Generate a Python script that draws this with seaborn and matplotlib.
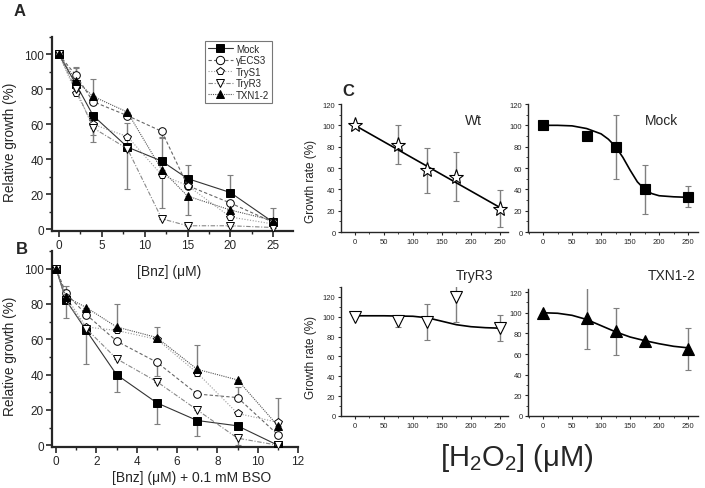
import numpy as np
import pandas as pd
import matplotlib
matplotlib.use("Agg")
import matplotlib.pyplot as plt
from matplotlib.ticker import MultipleLocator
from matplotlib.lines import Line2D
import seaborn as sns

sns.set_style("ticks")
plt.rcParams["font.family"] = ["Liberation Sans", "DejaVu Sans"]
plt.rcParams["mathtext.fontset"] = "custom"
plt.rcParams["mathtext.rm"] = "Liberation Sans"
plt.rcParams["mathtext.it"] = "Liberation Sans:italic"

# ---- panel A: Bnz alone ----
bnz_a = [0, 2, 4, 8, 12, 15, 20, 25]
a_mock = [100, 83, 65, 47, 39, 29, 21, 4]
a_gecs3 = [100, 88, 73, 65, 56, 25, 15, 4]
a_trys1 = [100, 78, 60, 53, 31, 25, 7, 3]
a_tryr3 = [100, 80, 58, 46, 6, 2, 2, 1]
a_txn = [100, 85, 76, 67, 34, 19, 11, 5]
# error bars (lower, upper)
a_mock_lo = [0, 3, 4, 0, 0, 0, 0, 0]
a_mock_up = [0, 10, 0, 14, 14, 8, 10, 0]
a_gecs3_lo = [0, 0, 0, 0, 4, 0, 0, 0]
a_gecs3_up = [0, 4, 0, 0, 0, 0, 0, 0]
a_trys1_lo = [0, 0, 6, 0, 0, 0, 0, 0]
a_trys1_up = [0, 0, 0, 0, 0, 0, 0, 0]
a_tryr3_lo = [0, 0, 8, 23, 0, 0, 0, 0]
a_tryr3_up = [0, 0, 0, 0, 0, 0, 0, 0]
a_txn_lo = [0, 4, 0, 0, 22, 11, 0, 0]
a_txn_up = [0, 0, 10, 0, 0, 0, 0, 7]

# ---- panel B: Bnz + BSO ----
bnz_b = [0, 0.5, 1.5, 3, 5, 7, 9, 11]
b_mock = [100, 82, 65, 40, 24, 14, 11, 0]
b_gecs3 = [100, 86, 74, 59, 47, 29, 27, 6]
b_trys1 = [100, 84, 67, 65, 60, 41, 18, 13]
b_tryr3 = [100, 82, 66, 49, 36, 20, 4, 0]
b_txn = [100, 84, 78, 67, 61, 43, 37, 11]
b_mock_lo = [0, 10, 19, 10, 12, 9, 0, 0]
b_mock_up = [0, 0, 0, 0, 0, 0, 0, 0]
b_gecs3_lo = [0, 0, 0, 0, 8, 0, 0, 0]
b_gecs3_up = [0, 0, 0, 0, 0, 0, 6, 0]
b_trys1_lo = [0, 0, 0, 0, 0, 2, 0, 0]
b_trys1_up = [0, 0, 0, 0, 0, 0, 0, 14]
b_tryr3_lo = [0, 0, 0, 0, 0, 0, 4, 0]
b_tryr3_up = [0, 0, 0, 0, 0, 0, 0, 0]
b_txn_lo = [0, 0, 0, 0, 0, 0, 0, 0]
b_txn_up = [0, 6, 0, 13, 6, 14, 0, 0]

# ---- panel C: H2O2 ----
h2o2 = [0, 75, 125, 175, 250]
c_wt = [100, 82, 58, 52, 22]
c_wt_err = [0, 18, 21, 23, 17]
c_mock = [100, 90, 80, 40, 33]
c_mock_err = [0, 0, 30, 23, 10]
c_tryr3 = [100, 96, 95, 120, 89]
c_tryr3_err = [0, 6, 18, 25, 13]
c_txn = [100, 95, 82, 73, 65]
c_txn_err = [0, 30, 23, 0, 20]
# fitted curves
fit_wt_x = [0, 250]
fit_wt_y = [100, 23]
fit_mock_x = [0, 25, 50, 75, 100, 112.5, 125, 137.5, 150, 162.5, 175, 187.5, 200, 225, 250]
fit_mock_y = [100, 100, 99.5, 97, 92, 87, 80, 70, 58, 47, 40, 36, 34, 33, 32.5]
fit_tryr3_x = [0, 50, 100, 125, 150, 175, 200, 225, 250]
fit_tryr3_y = [101, 101, 100.5, 99, 95.5, 92, 90, 89, 88.5]
fit_txn_x = [0, 25, 50, 75, 100, 125, 150, 175, 200, 225, 250]
fit_txn_y = [100, 99.5, 97.5, 93.5, 87.5, 81.5, 76.5, 73, 70, 67.5, 66]

W, H = 705, 489
fig = plt.figure(figsize=(W / 100, H / 100), dpi=100)


def box(l, t, r, b):
    return [l / W, 1 - b / H, (r - l) / W, (b - t) / H]


def ftext(x, y, s, **kw):
    fig.text(x / W, 1 - y / H, s, ha="center", va="center", **kw)


series_style = [
    ("Mock", "s", "black", "-", "#333333"),
    ("\u03b3ECS3", "o", "white", (0, (3, 2)), "#666666"),
    ("TryS1", "p", "white", (0, (1, 1.5)), "#9a9a9a"),
    ("TryR3", "v", "white", (0, (4, 1.5, 1, 1.5)), "#888888"),
    ("TXN1-2", "^", "black", (0, (1, 1)), "#555555"),
]


def style_main(ax):
    sns.despine(ax=ax)
    for sp in ax.spines.values():
        sp.set_linewidth(1.6)
    ax.tick_params(which="major", direction="out", length=4, width=1.2, labelsize=8.5, pad=2)
    ax.tick_params(which="minor", direction="out", length=2.5, width=1.0)
    ax.yaxis.set_major_locator(MultipleLocator(20))
    ax.yaxis.set_minor_locator(MultipleLocator(10))
    ax.set_xlabel("")
    ax.set_ylabel("")


def draw_panel(ax, x, ys, errs, ms):
    for (lab, mk, fc, ls, lc), y, (lo, up) in zip(series_style, ys, errs):
        ax.errorbar(x, y, yerr=[lo, up], fmt="none", ecolor="#7f7f7f",
                    elinewidth=1.0, capsize=2, capthick=0.8, zorder=1)
        sns.lineplot(x=x, y=y, ax=ax, color=lc, linestyle=ls, linewidth=0.8,
                     marker=mk, markersize=ms, markerfacecolor=fc,
                     markeredgecolor="black", markeredgewidth=0.7, zorder=3)


# panel A
axA = fig.add_axes(box(52, 38, 293, 232))
draw_panel(axA, bnz_a, [a_mock, a_gecs3, a_trys1, a_tryr3, a_txn],
           [(a_mock_lo, a_mock_up), (a_gecs3_lo, a_gecs3_up), (a_trys1_lo, a_trys1_up),
            (a_tryr3_lo, a_tryr3_up), (a_txn_lo, a_txn_up)], 5.5)
axA.set_xlim(-0.8, 27.3)
axA.set_ylim(-1, 110)
axA.xaxis.set_major_locator(MultipleLocator(5))
axA.xaxis.set_minor_locator(MultipleLocator(2.5))
style_main(axA)

handles = [Line2D([], [], color=lc, linestyle=ls, linewidth=0.8, marker=mk, markersize=6,
                  markerfacecolor=fc, markeredgecolor="black", markeredgewidth=0.7)
           for (lab, mk, fc, ls, lc) in series_style]
leg = axA.legend(handles, [s[0] for s in series_style], loc="upper left",
                 bbox_to_anchor=(200 / W, 1 - 37 / H), bbox_transform=fig.transFigure,
                 fontsize=7, frameon=True, fancybox=False, handlelength=2.6,
                 handletextpad=0.3, labelspacing=0.15, borderpad=0.3)
leg.get_frame().set_edgecolor("#555555")
leg.get_frame().set_linewidth(0.8)

# panel B
axB = fig.add_axes(box(52, 252, 298, 448))
draw_panel(axB, bnz_b, [b_mock, b_gecs3, b_trys1, b_tryr3, b_txn],
           [(b_mock_lo, b_mock_up), (b_gecs3_lo, b_gecs3_up), (b_trys1_lo, b_trys1_up),
            (b_tryr3_lo, b_tryr3_up), (b_txn_lo, b_txn_up)], 5.5)
axB.set_xlim(-0.2, 12)
axB.set_ylim(-1, 110)
axB.xaxis.set_major_locator(MultipleLocator(2))
axB.xaxis.set_minor_locator(MultipleLocator(1))
style_main(axB)

ftext(20, 11, "A", fontsize=12, fontweight="bold")
ftext(22, 250, "B", fontsize=12, fontweight="bold")
ftext(348, 91, "C", fontsize=12, fontweight="bold")
ftext(10, 142, "Relative growth (%)", fontsize=9.8, rotation=90)
ftext(10, 356, "Relative growth (%)", fontsize=9.8, rotation=90)
ftext(169, 272, "[Bnz] (\u03bcM)", fontsize=10)
ftext(192, 478, "[Bnz] (\u03bcM) + 0.1 mM BSO", fontsize=10)

# panel C
c_panels = [
    (box(341, 105, 508, 233), c_wt, c_wt_err, fit_wt_x, fit_wt_y, "*", "white", 11, (0, 120), (-24, 264)),
    (box(528, 105, 698, 233), c_mock, c_mock_err, fit_mock_x, fit_mock_y, "s", "black", 6.5, (0, 120), (-26, 267)),
    (box(341, 288, 508, 417), c_tryr3, c_tryr3_err, fit_tryr3_x, fit_tryr3_y, "v", "white", 8, (0, 130), (-24, 264)),
    (box(528, 290, 698, 417), c_txn, c_txn_err, fit_txn_x, fit_txn_y, "^", "black", 8, (0, 123), (-26, 267)),
]
for pos, y, err, fx, fy, mk, fc, ms, ylim, xlim in c_panels:
    ax = fig.add_axes(pos)
    ax.errorbar(h2o2, y, yerr=err, fmt="none", ecolor="#7f7f7f", elinewidth=1.0,
                capsize=2, capthick=0.8, zorder=1)
    sns.lineplot(x=fx, y=fy, ax=ax, color="black", linewidth=1.2, zorder=2)
    ax.plot(h2o2, y, linestyle="none", marker=mk, markersize=ms, markerfacecolor=fc,
            markeredgecolor="black", markeredgewidth=0.8, zorder=3)
    ax.set_xlim(*xlim)
    ax.set_ylim(*ylim)
    ax.xaxis.set_major_locator(MultipleLocator(50))
    ax.xaxis.set_minor_locator(MultipleLocator(25))
    ax.yaxis.set_major_locator(MultipleLocator(20))
    ax.yaxis.set_minor_locator(MultipleLocator(10))
    sns.despine(ax=ax)
    for sp in ax.spines.values():
        sp.set_linewidth(1.0)
    ax.tick_params(which="major", direction="out", length=2.5, width=0.8, labelsize=5.5, pad=1.5)
    ax.tick_params(which="minor", direction="out", length=1.5, width=0.6)

ftext(473, 121, "Wt", fontsize=10)
ftext(662, 121, "Mock", fontsize=10)
ftext(475, 276, "TryR3", fontsize=10)
ftext(672, 276, "TXN1-2", fontsize=10)
ftext(311, 181, "Growth rate (%)", fontsize=8.5, rotation=90)
ftext(311, 357, "Growth rate (%)", fontsize=8.5, rotation=90)
ftext(517, 458, "[H$_2$O$_2$] (\u03bcM)", fontsize=21)

fig.savefig("out.png", dpi=100)
